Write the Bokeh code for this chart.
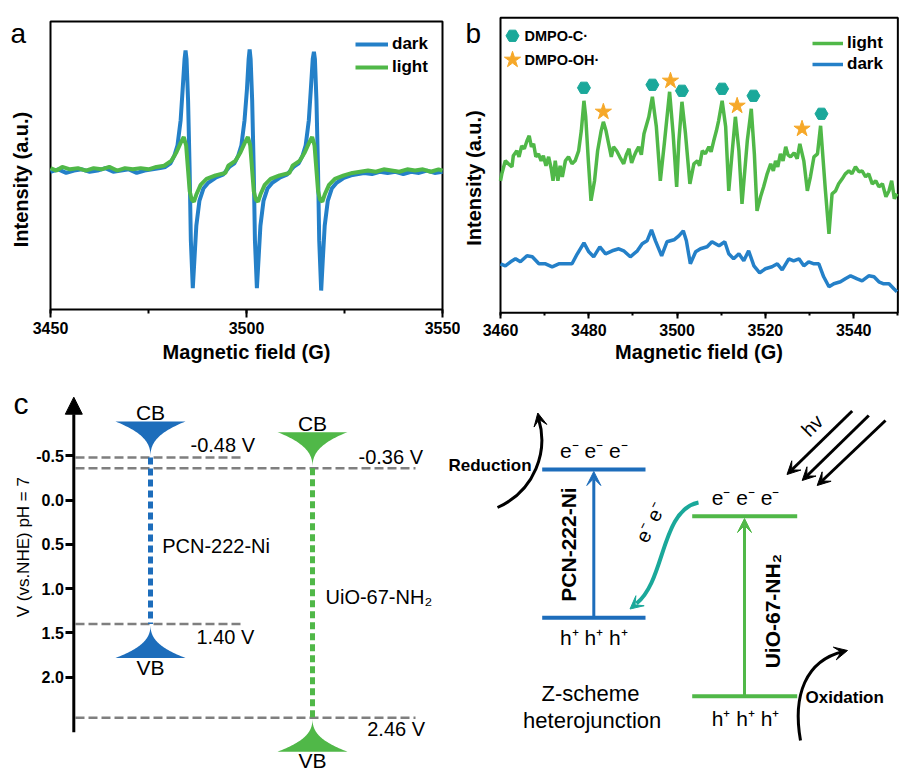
import numpy as np
from bokeh.plotting import figure
from bokeh.layouts import column, row
from bokeh.models import (Range1d, FixedTicker, SingleIntervalTicker, PrintfTickFormatter,
                          Arrow, VeeHead, NormalHead, Legend, LegendItem)
from bokeh.core.properties import value
from bokeh.embed import file_html
from bokeh.resources import INLINE

FONT = "Liberation Sans"
BLUE = "#2480c8"
GREEN = "#50b848"
DBLUE = "#1d6dbb"
TEAL = "#1aa89a"
ORANGE = "#f6a828"
GRAY = "#7f7f7f"

# ---------------- panel a data (field in G, intensity in a.u.) ----------------
a_field_dark = [3450, 3452, 3454, 3456, 3458, 3460, 3462, 3464, 3466, 3468, 3470, 3472, 3474, 3476, 3478,
                3479.3, 3480.6, 3481.6, 3482.4, 3483.2, 3483.7, 3484.2, 3484.45, 3484.7, 3485.1, 3485.5, 3485.8,
                3486.3, 3486.7, 3487.2, 3488.0, 3489.0, 3490.3, 3492.1, 3494.0,
                3495.6, 3496.9, 3497.9, 3498.7, 3499.5, 3500.1, 3500.55, 3500.8, 3501.05, 3501.45, 3501.85, 3502.15,
                3502.65, 3503.05, 3503.55, 3504.35, 3505.35, 3506.65, 3508.45, 3510.3,
                3512.0, 3513.3, 3514.3, 3515.1, 3515.9, 3516.4, 3516.9, 3517.2, 3517.45, 3517.85, 3518.25, 3518.55,
                3519.05, 3519.45, 3519.95, 3520.75, 3521.75, 3523.05, 3524.85, 3526.7,
                3528.5, 3530, 3532, 3534, 3536, 3538, 3540, 3542, 3544, 3546, 3548, 3550]
a_int_dark = [-0.01, 0.01, -0.02, 0.0, 0.01, -0.01, 0.0, 0.02, -0.01, 0.0, 0.01, -0.02, 0.0, 0.01, 0.02,
              0.03, 0.06, 0.125, 0.21, 0.42, 0.67, 0.93, 1.0, 0.93, 0.58, 0.0, -0.58,
              -0.98, -0.75, -0.46, -0.25, -0.15, -0.10, -0.06, -0.035,
              0.03, 0.06, 0.125, 0.21, 0.42, 0.67, 0.93, 1.01, 0.93, 0.58, 0.0, -0.58,
              -0.98, -0.75, -0.46, -0.25, -0.15, -0.10, -0.06, -0.035,
              0.03, 0.06, 0.125, 0.21, 0.42, 0.67, 0.93, 0.99, 0.93, 0.58, 0.0, -0.58,
              -1.0, -0.75, -0.46, -0.25, -0.15, -0.10, -0.06, -0.04,
              -0.03, -0.02, -0.03, -0.01, -0.02, -0.01, -0.03, -0.01, -0.02, 0.0, -0.02, -0.01]
a_field_light = [3450, 3451.5, 3453, 3455, 3457, 3459, 3461, 3463, 3465, 3467, 3469, 3471, 3473, 3475, 3477,
                 3479.0, 3480.8, 3482.1, 3483.2, 3484.0, 3484.6, 3485.1, 3485.5, 3486.0, 3486.6, 3487.2, 3488.3,
                 3489.8, 3492.1, 3494.6,
                 3495.35, 3497.15, 3498.45, 3499.55, 3500.35, 3500.95, 3501.45, 3501.85, 3502.35, 3502.95, 3503.55,
                 3504.65, 3506.15, 3508.45, 3510.95,
                 3511.75, 3513.55, 3514.85, 3515.95, 3516.75, 3517.35, 3517.85, 3518.25, 3518.75, 3519.35, 3519.95,
                 3521.05, 3522.55, 3524.85, 3527.0,
                 3529, 3531, 3533, 3535, 3537, 3539, 3541, 3543, 3545, 3547, 3549, 3550]
a_int_light = [0.02, 0.0, 0.03, 0.01, 0.02, 0.0, 0.02, 0.01, 0.03, 0.0, 0.02, 0.01, 0.02, 0.01, 0.03,
               0.04, 0.08, 0.15, 0.23, 0.28, 0.21, 0.0, -0.17, -0.24, -0.26, -0.2, -0.12, -0.07, -0.04, -0.02,
               0.04, 0.08, 0.15, 0.23, 0.28, 0.21, 0.0, -0.17, -0.24, -0.26, -0.2, -0.12, -0.07, -0.04, -0.02,
               0.04, 0.08, 0.15, 0.23, 0.28, 0.21, 0.0, -0.17, -0.24, -0.26, -0.2, -0.12, -0.07, -0.04, -0.02,
               -0.01, 0.0, -0.01, 0.01, 0.0, -0.01, 0.01, 0.0, 0.01, -0.01, 0.01, 0.0]
a_xlim = [3450, 3550]
a_ylim = [-1.158, 1.242]

# ---------------- panel b data ----------------
b_field_light = [3460.0, 3460.3, 3461.1, 3461.8, 3462.6, 3462.9, 3463.7, 3464.2, 3464.8, 3465.4,
                 3466.0, 3466.5, 3467.0, 3467.5, 3468.0, 3468.6, 3469.2, 3469.7, 3470.3, 3470.9,
                 3471.5, 3471.9, 3472.4, 3473.0, 3473.5, 3474.0, 3474.7, 3475.4, 3476.2, 3476.9,
                 3477.7, 3478.3, 3478.9, 3479.3, 3479.9, 3480.5, 3481.3, 3482.0, 3482.8, 3483.3,
                 3483.9, 3484.5, 3485.1, 3485.6, 3486.3, 3487.0, 3487.9, 3488.5, 3489.1, 3489.7,
                 3490.2, 3490.8, 3491.3, 3491.9, 3492.5, 3493.6, 3494.4, 3495.3, 3496.2, 3497.1,
                 3498.3, 3499.1, 3499.9, 3500.4, 3501.1, 3501.9, 3502.9, 3503.8, 3504.6, 3505.1,
                 3505.7, 3506.4, 3507.2, 3507.7, 3508.3, 3508.9, 3509.4, 3510.2, 3511.0, 3511.7,
                 3512.5, 3513.2, 3514.0, 3514.7, 3515.9, 3516.8, 3517.5, 3518.1, 3518.9, 3519.6,
                 3520.4, 3521.2, 3521.8, 3522.3, 3522.8, 3523.4, 3524.0, 3524.6, 3525.1, 3525.7,
                 3526.5, 3527.2, 3527.8, 3528.7, 3529.5, 3530.2, 3531.0, 3531.8, 3532.5, 3533.6,
                 3534.4, 3535.1, 3535.9, 3536.6, 3537.4, 3538.1, 3538.9, 3539.6, 3540.4, 3541.2,
                 3541.9, 3542.7, 3543.4, 3544.2, 3545.0, 3545.7, 3546.5, 3547.3, 3548.0, 3548.6,
                 3549.2, 3549.8]
b_int_light = [132, 139, 152, 149, 146, 157, 162, 156, 167, 164,
               172, 177, 166, 169, 156, 159, 152, 157, 147, 156,
               144, 132, 152, 132, 147, 136, 152, 156, 149, 152,
               162, 182, 212, 196, 152, 112, 132, 162, 182, 191,
               182, 169, 156, 166, 162, 156, 149, 158, 164, 150,
               156, 162, 166, 158, 179, 196, 216, 186, 132, 169,
               221, 179, 126, 172, 211, 179, 129, 149, 152, 147,
               162, 159, 166, 161, 172, 182, 192, 212, 186, 122,
               162, 196, 162, 109, 172, 204, 159, 102, 116, 126,
               139, 149, 142, 152, 146, 159, 152, 166, 158, 156,
               160, 154, 169, 152, 122, 136, 156, 159, 187, 122,
               79, 119, 122, 129, 134, 139, 142, 139, 146, 141,
               142, 136, 139, 129, 132, 126, 129, 116, 122, 132,
               114, 119]
b_field_dark = [3460.0, 3461.1, 3462.3, 3463.4, 3464.5, 3466.0, 3467.2, 3468.7, 3470.2, 3471.7,
                3473.2, 3474.7, 3476.2, 3477.4, 3478.9, 3480.0, 3481.1, 3482.5, 3483.8, 3485.3,
                3486.8, 3487.9, 3489.4, 3491.0, 3492.1, 3493.2, 3494.2, 3495.1, 3496.5, 3497.7,
                3499.3, 3500.4, 3501.4, 3502.1, 3503.0, 3504.2, 3505.3, 3506.8, 3507.9, 3509.5,
                3510.8, 3511.7, 3512.8, 3514.0, 3515.1, 3516.2, 3517.4, 3518.7, 3520.0, 3521.5,
                3522.7, 3523.8, 3525.3, 3526.4, 3527.6, 3528.7, 3529.8, 3531.0, 3532.1, 3533.2,
                3534.4, 3535.5, 3537.0, 3538.1, 3539.3, 3540.8, 3541.9, 3543.4, 3544.6, 3545.7,
                3546.8, 3548.0, 3549.1, 3549.8]
b_int_dark = [49, 47, 51, 54, 51, 57, 56, 49, 49, 46,
              49, 49, 49, 59, 70, 61, 56, 66, 59, 62,
              64, 62, 56, 62, 69, 72, 83, 72, 57, 71,
              73, 77, 82, 72, 49, 61, 64, 66, 71, 67,
              71, 59, 54, 59, 52, 62, 47, 40, 44, 46,
              49, 43, 54, 52, 54, 47, 51, 49, 49, 36,
              26, 29, 31, 34, 37, 34, 32, 37, 36, 31,
              29, 29, 24, 21]
hex_field = [3478.9, 3494.4, 3501.1, 3510.2, 3517.3, 3532.7]
hex_int = [225, 228, 222, 224, 217, 199]
star_field = [3483.3, 3498.5, 3513.6, 3528.3]
star_int = [201, 232, 207, 184]
b_xlim = [3460, 3550]
b_ylim = [0, 295]

# ---------------- panel c data ----------------
materials = ["PCN-222-Ni", "UiO-67-NH\u2082"]
cb_values = [-0.48, -0.36]
vb_values = [1.40, 2.46]
c_ticks = [-0.5, 0.0, 0.5, 1.0, 1.5, 2.0]

TOP_H = 370
BOT_H = 403


def base_fig(**kw):
    p = figure(output_backend="svg", toolbar_location=None,
               min_border_left=0, min_border_right=0, min_border_top=0, min_border_bottom=0, **kw)
    p.grid.visible = False
    p.outline_line_color = None
    p.background_fill_color = "white"
    p.border_fill_color = "white"
    return p


def style_spectrum(p, xlim, ylim, ybounds, major_out, minor_out, lab_sto, axlab_sto, ylab_sto):
    xa = p.xaxis[0]
    ya = p.yaxis[0]
    xa.fixed_location = ylim[0]
    xa.bounds = tuple(xlim)
    ya.fixed_location = xlim[0]
    ya.bounds = tuple(ybounds)
    xa.major_tick_out = major_out
    xa.major_tick_in = 0
    xa.minor_tick_out = minor_out
    xa.minor_tick_in = 0
    for ax in (xa, ya):
        ax.axis_line_color = None
        ax.major_tick_line_width = 2
        ax.minor_tick_line_width = 2
        ax.major_tick_line_color = "black"
        ax.minor_tick_line_color = "black"
        ax.major_label_text_font = FONT
        ax.major_label_text_font_size = "16px"
        ax.major_label_text_font_style = "bold"
        ax.major_label_text_color = "black"
        ax.axis_label_text_font = FONT
        ax.axis_label_text_font_size = "20px"
        ax.axis_label_text_font_style = "bold"
        ax.axis_label_text_color = "black"
    xa.major_label_standoff = lab_sto
    xa.axis_label_standoff = axlab_sto
    xa.axis_label = "Magnetic field (G)"
    ya.ticker = FixedTicker(ticks=[])
    ya.major_tick_out = 0
    ya.major_tick_in = 0
    ya.minor_tick_out = 0
    ya.minor_tick_in = 0
    ya.major_label_standoff = 0
    ya.axis_label_standoff = ylab_sto
    ya.axis_label = "Intensity (a.u.)"
    p.quad(left=[xlim[0]], right=[xlim[1]], bottom=[ylim[0]], top=[ylim[1]], fill_alpha=0,
           line_color="black", line_width=2)


def line_legend(items, loc, gw, spacing):
    return Legend(items=items, location=loc, glyph_width=gw, glyph_height=20, label_height=20,
                  label_width=20, spacing=spacing, label_standoff=4, padding=0, margin=0,
                  border_line_color=None, background_fill_alpha=0,
                  label_text_font=FONT, label_text_font_size="17px", label_text_font_style="bold",
                  label_text_color="black")


# ================= panel a =================
a_px = 3.92
a_py = 120.0
pa = base_fig(width=460, height=TOP_H,
              x_range=Range1d(a_xlim[0] - 50 / a_px, a_xlim[0] + 410 / a_px),
              y_range=Range1d(a_ylim[0] - 61 / a_py, a_ylim[1] + 21 / a_py))
style_spectrum(pa, a_xlim, a_ylim, (a_ylim[0], a_ylim[1] - 28 / a_py), 8, 4, 4, 4, 19)
pa.xaxis[0].ticker = SingleIntervalTicker(interval=50, num_minor_ticks=2)
r_dark_a = pa.line(a_field_dark, a_int_dark, line_color=BLUE, line_width=4)
r_light_a = pa.line(a_field_light, a_int_light, line_color=GREEN, line_width=4)
pa.add_layout(line_legend([LegendItem(label=value("dark"), renderers=[r_dark_a]),
                           LegendItem(label=value("light"), renderers=[r_light_a])], (355, 293), 33, 3))
pa.text(x=[a_xlim[0] - 40 / a_px], y=[a_ylim[1] - 12 / a_py], text=["a"], text_font=value(FONT),
        text_font_size="28px", text_align="left", text_baseline="alphabetic", text_color="black")

# ================= panel b =================
b_px = 4.415
pb = base_fig(width=453, height=TOP_H,
              x_range=Range1d(b_xlim[0] - 40 / b_px, b_xlim[0] + 413 / b_px),
              y_range=Range1d(b_ylim[0] - 57.7, b_ylim[1] + 17.3))
style_spectrum(pb, b_xlim, b_ylim, (b_ylim[0], b_ylim[1] - 26), 6, 3, 5, 2, 16)
pb.xaxis[0].ticker = SingleIntervalTicker(interval=20, num_minor_ticks=2)
r_light_b = pb.line(b_field_light, b_int_light, line_color=GREEN, line_width=3.5)
r_dark_b = pb.line(b_field_dark, b_int_dark, line_color=BLUE, line_width=3.5)
pb.scatter(hex_field, hex_int, marker="hex", size=13, fill_color=TEAL, line_color=TEAL)
pb.scatter(star_field, star_int, marker="star", size=17, fill_color=ORANGE, line_color=ORANGE)
pb.add_layout(line_legend([LegendItem(label=value("light"), renderers=[r_light_b]),
                           LegendItem(label=value("dark"), renderers=[r_dark_b])], (352, 296), 31, 1))
key_x = b_xlim[0] + 12 / b_px
pb.scatter([key_x], [b_ylim[1] - 18], marker="hex", size=13, fill_color=TEAL, line_color=TEAL)
pb.scatter([key_x], [b_ylim[1] - 42], marker="star", size=17, fill_color=ORANGE, line_color=ORANGE)
pb.text(x=[key_x + 12 / b_px] * 2, y=[b_ylim[1] - 18, b_ylim[1] - 42], text=["DMPO-C\u00b7", "DMPO-OH\u00b7"],
        text_font=value(FONT), text_font_size="14.5px", text_font_style="bold",
        text_align="left", text_baseline="middle", text_color="black")
pb.text(x=[b_xlim[0] - 35 / b_px], y=[b_ylim[1] - 16], text=["b"], text_font=value(FONT),
        text_font_size="28px", text_align="left", text_baseline="alphabetic", text_color="black")

# ================= panel c (energy levels) =================
PX_PER_V = 88.5
V0_PAGE = 499.5


def v(page_y):
    return (page_y - V0_PAGE) / PX_PER_V


pcl = base_fig(width=445, height=BOT_H, x_range=Range1d(0, 445),
               y_range=Range1d(v(370 + BOT_H), v(370)), x_axis_location=None, y_axis_location="left")
ya = pcl.yaxis[0]
ya.fixed_location = 73.3
ya.ticker = FixedTicker(ticks=c_ticks)
ya.formatter = PrintfTickFormatter(format="%.1f")
ya.major_tick_out = 8
ya.major_tick_in = 0
ya.minor_tick_out = 0
ya.minor_tick_in = 0
ya.major_tick_line_width = 3
ya.major_tick_line_color = "black"
ya.axis_line_color = None
ya.major_label_text_font = FONT
ya.major_label_text_font_size = "16px"
ya.major_label_text_font_style = "bold"
ya.major_label_text_color = "black"
ya.major_label_standoff = 2

pcl.add_layout(Arrow(x_start=73.3, y_start=v(731.7), x_end=73.3, y_end=v(396.7), line_width=3,
                     line_color="black",
                     end=NormalHead(size=17, fill_color="black", line_color="black", line_width=1)))

mat_x = [150, 312]
dash_end = [242, 415]
mat_col = [DBLUE, GREEN]
pcl.segment(x0=[75] * 4, y0=cb_values + vb_values, x1=dash_end + dash_end, y1=cb_values + vb_values,
            line_color=GRAY, line_width=2.5, line_dash="9 4")
pcl.segment(x0=mat_x, y0=cb_values, x1=mat_x, y1=vb_values, line_color=mat_col, line_width=5,
            line_dash="7 4")


def funnel(cx, v_apex, h_px, w_px, base_up):
    t = np.linspace(0, 1, 40)
    half = 0.5 * w_px * t ** 2.6
    dv = t * h_px / PX_PER_V * (-1 if base_up else 1)
    xs = list(cx - half) + list((cx + half)[::-1])
    ys = list(v_apex + dv) + list((v_apex + dv)[::-1])
    return xs, ys


fx, fy = [], []
for i in range(2):
    xs, ys = funnel(mat_x[i], cb_values[i], 36, 70, True)
    fx.append(xs); fy.append(ys)
    xs, ys = funnel(mat_x[i], vb_values[i], 34, 70, False)
    fx.append(xs); fy.append(ys)
pcl.patches(xs=fx, ys=fy, fill_color=[DBLUE, DBLUE, GREEN, GREEN], line_color=None)

tkw = dict(text_font=value(FONT), text_font_size="20px", text_color="black")
pcl.text(x=mat_x + mat_x, y=[v(411.7), v(423.3), v(666.7), v(760)], text=["CB", "CB", "VB", "VB"],
         text_align="center", text_baseline="middle", text_font=value(FONT), text_font_size="21px",
         text_color="black")
pcl.text(x=[190, 358, 196, 366.7], y=[v(444), v(456), v(636.7), v(728.3)],
         text=["%.2f V" % cb_values[0], "%.2f V" % cb_values[1], "%.2f V" % vb_values[0], "%.2f V" % vb_values[1]],
         text_align="left", text_baseline="middle", **tkw)
pcl.text(x=[161.7, 325], y=[v(545), v(596.7)], text=materials, text_align="left", text_baseline="middle", **tkw)
pcl.text(x=[13], y=[v(403.3)], text=["c"], text_font=value(FONT), text_font_size="30px",
         text_align="left", text_baseline="alphabetic", text_color="black")
pcl.text(x=[23], y=[v(546.7)], text=["V (vs.NHE) pH = 7"], angle=np.pi / 2, text_font=value(FONT),
         text_font_size="17px", text_align="center", text_baseline="middle", text_color="black")

# ================= panel c (Z-scheme) =================
pcr = base_fig(width=468, height=BOT_H, x_range=Range1d(445, 913), y_range=Range1d(370 + BOT_H, 370),
               x_axis_location=None, y_axis_location=None)

bar_x0 = [541.7, 541.7, 691.7, 691.7]
bar_x1 = [645, 645, 796.7, 796.7]
bar_y = [469, 617.3, 515.7, 695.7]
pcr.segment(x0=bar_x0, y0=bar_y, x1=bar_x1, y1=bar_y, line_color=[DBLUE, DBLUE, GREEN, GREEN], line_width=4)
for xa_, y0, y1, col in [(593.3, 617.3, 471, DBLUE), (744, 695.7, 518, GREEN)]:
    pcr.add_layout(Arrow(x_start=xa_, y_start=y0, x_end=xa_, y_end=y1, line_color=col, line_width=3,
                         end=VeeHead(size=14, fill_color=col, line_color=col, line_width=1)))

for (xs_, ys_, xe_, ye_) in [(851.7, 410.5, 786.5, 474), (868.3, 415, 801.7, 480), (885, 420, 816.7, 485)]:
    pcr.add_layout(Arrow(x_start=xs_, y_start=ys_, x_end=xe_, y_end=ye_, line_color="black", line_width=3,
                         end=VeeHead(size=13, fill_color="black", line_color="black", line_width=1)))

pcr.bezier(x0=[497, 800], y0=[507, 740], x1=[538, 843], y1=[418, 651],
           cx0=[535, 792], cy0=[490, 695], cx1=[548, 805], cy1=[450, 660],
           line_color="black", line_width=3)
pcr.bezier(x0=[698], y0=[502], x1=[636], y1=[603], cx0=[660], cy0=[510], cx1=[665], cy1=[580],
           line_color=TEAL, line_width=4)
for (xs_, ys_, xe_, ye_, col) in [(540.5, 428, 537.3, 412.5, "black"), (830, 654, 847, 650, "black"),
                                  (641, 599, 629.5, 608.5, TEAL)]:
    pcr.add_layout(Arrow(x_start=xs_, y_start=ys_, x_end=xe_, y_end=ye_, line_alpha=0, line_width=0,
                         end=VeeHead(size=13, fill_color=col, line_color=col, line_width=1)))

skw = dict(text_font=value(FONT), text_color="black")
pcr.text(x=[593.3, 745], y=[450, 496.7], text=["e\u207b e\u207b e\u207b"] * 2, text_font_size="21px",
         text_align="center", text_baseline="middle", **skw)
pcr.text(x=[593.3, 745], y=[636.7, 718.3], text=["h\u207a h\u207a h\u207a"] * 2, text_font_size="21px",
         text_align="center", text_baseline="middle", **skw)
pcr.text(x=[448, 805], y=[465, 696.7], text=["Reduction", "Oxidation"], text_font_size="17px",
         text_font_style="bold", text_align="left", text_baseline="middle", **skw)
pcr.text(x=[568.3, 771.7], y=[544, 610.7], text=materials, angle=np.pi / 2, text_font_size="21px",
         text_font_style="bold", text_align="center", text_baseline="middle", **skw)
pcr.text(x=[590, 591.7], y=[692.7, 720], text=["Z-scheme", "heterojunction"], text_font_size="22px",
         text_align="center", text_baseline="middle", **skw)
pcr.text(x=[811.7], y=[425], text=["hv"], angle=np.pi / 4, text_font_size="20px",
         text_align="center", text_baseline="middle", **skw)
pcr.text(x=[650], y=[522], text=["e\u207b e\u207b"], angle=1.1, text_font_size="20px",
         text_align="center", text_baseline="middle", **skw)

layout = column(row(pa, pb), row(pcl, pcr))
open("out.html", "w").write(file_html(layout, INLINE))
